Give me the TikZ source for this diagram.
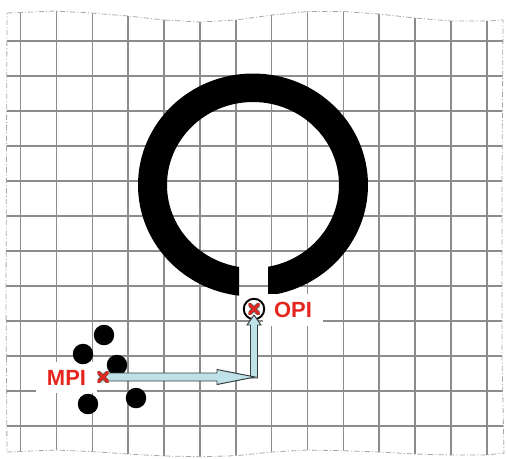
\documentclass[tikz,border=0pt]{standalone}
\usepackage{fontspec}
\setmainfont{Liberation Sans}
\usetikzlibrary{calc}

\definecolor{markred}{RGB}{228,38,30}
\definecolor{arrowfill}{RGB}{190,226,232}
\definecolor{arrowline}{RGB}{55,60,62}

\begin{document}
\begin{tikzpicture}[x=0.02cm, y=-0.02cm,
  gridline/.style={draw=black!45, line width=0.9pt},
  sheetline/.style={draw=black!35, line width=0.45pt, dash pattern=on 3pt off 1.2pt on 0.6pt off 1.2pt},
  blockarrow/.style={fill=arrowfill, draw=arrowline, line width=0.55pt, line join=miter},
  shot/.style={circle, fill=black, inner sep=0pt, minimum size=0.41cm},
  xmark/.style={rectangle, fill=black!10, inner sep=0pt, minimum size=0.22cm,
    path picture={
      \draw[black!70, line width=2.4pt] (path picture bounding box.south west) -- (path picture bounding box.north east)
        (path picture bounding box.north west) -- (path picture bounding box.south east);
      \draw[markred, line width=1.5pt] (path picture bounding box.south west) -- (path picture bounding box.north east)
        (path picture bounding box.north west) -- (path picture bounding box.south east);}},
  tag/.style={fill=white, text=markred, font=\fontsize{12.5}{14}\selectfont\bfseries, inner xsep=0.22cm, inner ysep=0.16cm}]

\useasboundingbox (0,0) rectangle (507,458);

% Grid spacing (pixels of the sheet):
\def\xFirst{20.7}
\def\xStep{35.85}
\def\yFirst{41}
\def\yStep{35}
% Ring centre and gap edges:
\def\cx{253}
\def\cy{185}
\def\gapL{239}
\def\gapR{268}

%--- Torn sheet outline ---
\def\sheetedge{(7,13) -- (55,11) -- (91,13) -- (128,16) -- (164,20) -- (200,22) -- (236,20) -- (272,15)
  -- (308,11.5) -- (343,11.5) -- (379,14) -- (415,18) -- (451,21) -- (487,21) -- (503,20)
  -- (502,180) -- (502,356) -- (504,453) -- (487,455) -- (451,455) -- (415,454) -- (379,452)
  -- (343,450.7) -- (307,450) -- (272,452) -- (236,455.7) -- (200,456.7) -- (164,456)
  -- (128,454) -- (91,451.5) -- (55,450) -- (7,452) -- (6,300) -- cycle}

%--- Grid, cut to the sheet ---
\begin{scope}
  \clip \sheetedge;
  \foreach \i in {0,...,13}
    \draw[gridline] ({\xFirst+\i*\xStep},0) -- ({\xFirst+\i*\xStep},458);
  \foreach \j in {0,...,11}
    \draw[gridline] (0,{\yFirst+\j*\yStep}) -- (507,{\yFirst+\j*\yStep});
\end{scope}
\draw[sheetline] \sheetedge;

%--- Open ring (gap at the bottom) ---
\begin{scope}
  \clip (0,0) rectangle (\gapL,458) (\gapR,0) rectangle (507,458) (0,0) rectangle (507,260);
  \fill[even odd rule] (\cx,\cy) ellipse [x radius=115, y radius=111.5]
                       (\cx,\cy) ellipse [x radius=86, y radius=83];
\end{scope}

%--- Labels ---
\node[tag] (mpitag) at (66.5,377.5) {MPI};
\node[tag] (opitag) at (293,310) {OPI};

%--- Shot group ---
\foreach \p [count=\k] in {(104,335),(83,354),(117,365),(88,404),(136,398)}
  \node[shot] (shot\k) at \p {};

%--- Points and the correction path ---
\coordinate (mpi) at (103,377);
\coordinate (opi) at (254,309);
\coordinate (bend) at (opi |- mpi);

\node[circle, draw, fill=white, line width=1.1pt, minimum size=0.41cm, inner sep=0pt] (opiring) at (opi) {};

% vertical leg
\draw[blockarrow] ($(bend)+(-3.5,1)$) -- ($(opi)+(-3.5,16)$) -- ($(opi)+(-7,16)$) -- ($(opi)+(0,6)$)
  -- ($(opi)+(7,16)$) -- ($(opi)+(3.5,16)$) -- ($(bend)+(3.5,1)$) -- cycle;
% horizontal leg
\draw[blockarrow] ($(mpi)+(5,-4)$) -- ($(bend)+(-37,-4)$) -- ($(bend)+(-37,-7.5)$) -- ($(bend)+(1,0)$)
  -- ($(bend)+(-37,7.5)$) -- ($(bend)+(-37,4)$) -- ($(mpi)+(5,4)$) -- cycle;

\node[xmark] (mpimark) at (mpi) {};
\node[xmark] (opimark) at (opi) {};

\end{tikzpicture}
\end{document}
